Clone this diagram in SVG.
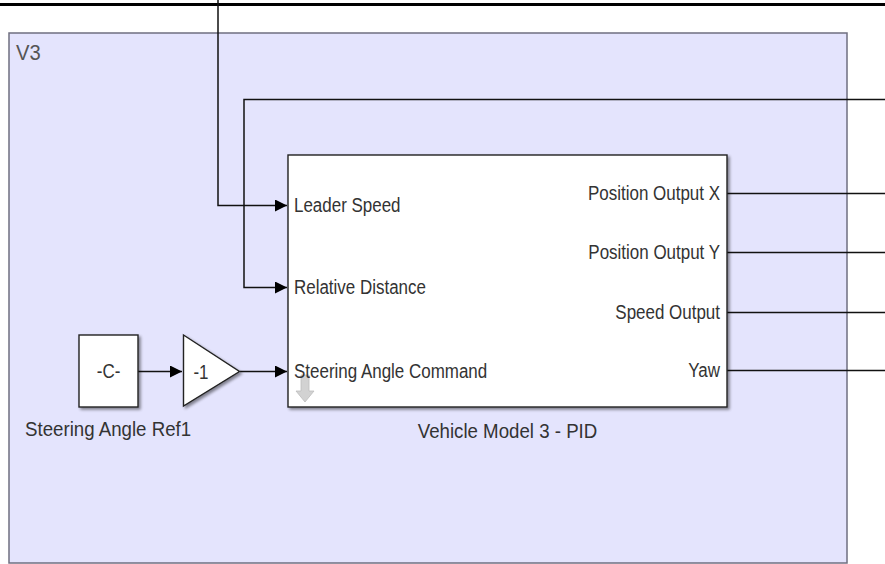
<svg xmlns="http://www.w3.org/2000/svg" width="885" height="564" viewBox="0 0 885 564">
  <style>
    .lbl { font-family: "Liberation Sans", Arial, sans-serif; font-size: 19.5px; fill: #333; }
    .name { font-size: 21px; }
    .blk { fill: #ffffff; stroke: #222; stroke-width: 1.4; }
    .wire { fill: none; stroke: #111; stroke-width: 1.5; }
  </style>
  <defs>
    <marker id="arr" viewBox="0 0 12 12" refX="12" refY="6" markerWidth="12" markerHeight="12" markerUnits="userSpaceOnUse" orient="auto">
      <path d="M0,0 L12,6 L0,12 Z" fill="#000"/>
    </marker>
    <filter id="shadow" x="-10%" y="-10%" width="130%" height="130%">
      <feGaussianBlur in="SourceAlpha" stdDeviation="1.5"/>
      <feOffset dx="2" dy="2" result="off"/>
      <feComponentTransfer><feFuncA type="linear" slope="0.45"/></feComponentTransfer>
      <feMerge><feMergeNode/><feMergeNode in="SourceGraphic"/></feMerge>
    </filter>
  </defs>

  <rect width="885" height="564" fill="#ffffff"/>

  <!-- subsystem area V3 -->
  <g id="area-v3">
    <rect x="9" y="33" width="838" height="530" fill="#e4e4fd" stroke="#6f6f80" stroke-width="1.5"/>
    <text transform="translate(16,60) scale(0.92,1)" font-family="Liberation Sans, Arial, sans-serif" font-size="22" fill="#555">V3</text>
  </g>

  <!-- heavy rule along the top -->
  <line x1="0" y1="4.5" x2="885" y2="4.5" stroke="#000" stroke-width="3"/>

  <!-- connectors -->
  <g id="connectors">
    <polyline class="wire" points="218,0 218,205.5 287,205.5" marker-end="url(#arr)"/>
    <polyline class="wire" points="885,99.5 244,99.5 244,287.5 287,287.5" marker-end="url(#arr)"/>
    <line class="wire" x1="138" y1="371.5" x2="182" y2="371.5" marker-end="url(#arr)"/>
    <line class="wire" x1="240" y1="371.5" x2="287" y2="371.5" marker-end="url(#arr)"/>
    <line class="wire" x1="727" y1="193.5" x2="885" y2="193.5"/>
    <line class="wire" x1="727" y1="252.5" x2="885" y2="252.5"/>
    <line class="wire" x1="727" y1="312.5" x2="885" y2="312.5"/>
    <line class="wire" x1="727" y1="370.5" x2="885" y2="370.5"/>
  </g>

  <!-- constant block -->
  <g id="steering-angle-ref1">
    <rect class="blk" x="79" y="335" width="59" height="72" filter="url(#shadow)"/>
    <text class="lbl" transform="translate(108.5,378) scale(0.87,1)" text-anchor="middle">-C-</text>
    <text class="lbl name" transform="translate(25,436) scale(0.89,1)">Steering Angle Ref1</text>
  </g>

  <!-- gain block -->
  <g id="gain">
    <polygon class="blk" points="183.5,335 239.5,371.5 183.5,406" filter="url(#shadow)"/>
    <text class="lbl" transform="translate(201,378.5) scale(0.87,1)" text-anchor="middle">-1</text>
  </g>

  <!-- vehicle model subsystem -->
  <g id="vehicle-model-3-pid">
    <rect class="blk" x="288" y="155" width="439" height="252" filter="url(#shadow)"/>
    <!-- inherited-sample-time marker -->
    <path d="M301,375 L309,375 L309,391 L314,391 L305,402 L296,391 L301,391 Z" fill="#d2d2d2" stroke="#bdbdbd" stroke-width="0.8"/>
    <text class="lbl" transform="translate(294,212) scale(0.87,1)">Leader Speed</text>
    <text class="lbl" transform="translate(294,294) scale(0.87,1)">Relative Distance</text>
    <text class="lbl" transform="translate(294,378) scale(0.87,1)">Steering Angle Command</text>
    <text class="lbl" transform="translate(720,199.5) scale(0.87,1)" text-anchor="end">Position Output X</text>
    <text class="lbl" transform="translate(720,258.5) scale(0.87,1)" text-anchor="end">Position Output Y</text>
    <text class="lbl" transform="translate(720,318.5) scale(0.87,1)" text-anchor="end">Speed Output</text>
    <text class="lbl" transform="translate(720,376.5) scale(0.87,1)" text-anchor="end">Yaw</text>
    <text class="lbl name" transform="translate(507.5,438) scale(0.89,1)" text-anchor="middle">Vehicle Model 3 - PID</text>
  </g>
</svg>
